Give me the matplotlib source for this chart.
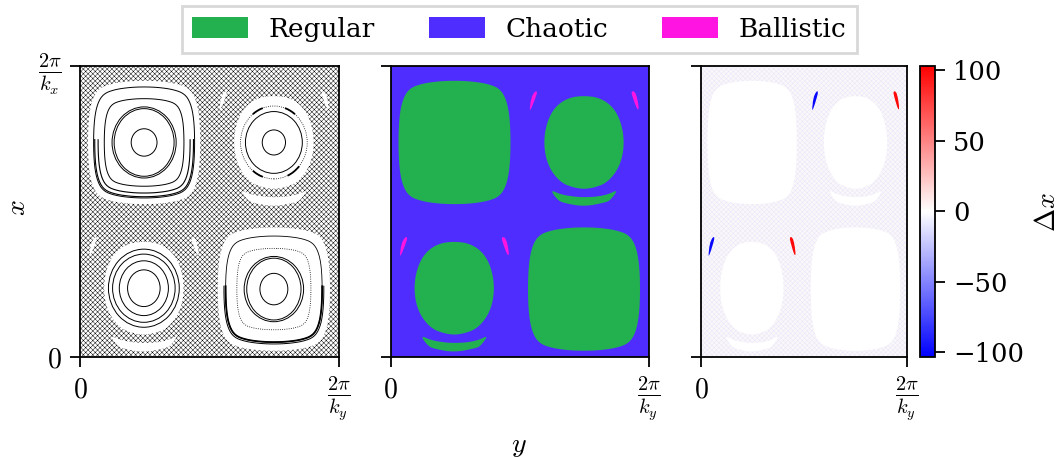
"""Phase-space panels: Poincare section, orbit classification, and displacement."""

import numpy as np
import matplotlib
matplotlib.use("Agg")
import matplotlib.pyplot as plt
from matplotlib.cm import ScalarMappable
from matplotlib.colors import Normalize
from matplotlib.patches import Arc, Ellipse, Patch, Polygon, Rectangle

plt.rcParams["mathtext.fontset"] = "cm"

FIG_W, FIG_H = 1062, 457

# ── Data (axis fractions of the 2pi/k period) ──────────────────────────────

# vortex centres: y is horizontal, x is vertical
LARGE_Y = [0.248, 0.750]
LARGE_X = [0.736, 0.233]
SMALL_Y = [0.750, 0.247]
SMALL_X = [0.736, 0.236]

# outline of the large (squarish) regular island, relative to its centre
LARGE_DY = [0.000, 0.061, 0.125, 0.174, 0.200, 0.214, 0.218, 0.214, 0.200, 0.174, 0.125, 0.061,
            0.000, -0.061, -0.125, -0.174, -0.200, -0.214, -0.218, -0.214, -0.200, -0.174, -0.125, -0.061]
LARGE_DX = [0.212, 0.210, 0.202, 0.186, 0.150, 0.090, 0.000, -0.090, -0.150, -0.186, -0.202, -0.210,
            -0.212, -0.210, -0.202, -0.186, -0.150, -0.090, 0.000, 0.090, 0.150, 0.186, 0.202, 0.210]

# outline of the small (rounded) regular island
SMALL_DY = [0.000, 0.052, 0.097, 0.130, 0.150, 0.155, 0.147, 0.124, 0.085, 0.039,
            0.000, -0.039, -0.085, -0.124, -0.147, -0.155, -0.150, -0.130, -0.097, -0.052]
SMALL_DX = [0.160, 0.155, 0.134, 0.098, 0.046, -0.006, -0.057, -0.103, -0.140, -0.155,
            -0.160, -0.155, -0.140, -0.103, -0.057, -0.006, 0.046, 0.098, 0.134, 0.155]

# crescent below each small island
CRESCENT_DY = [-0.131, -0.091, -0.039, 0.000, 0.052, 0.097, 0.132, 0.103, 0.084, 0.000, -0.078, -0.103]
CRESCENT_DX = [-0.162, -0.178, -0.186, -0.188, -0.186, -0.177, -0.162, -0.197, -0.206, -0.220, -0.208, -0.197]

# ballistic slivers either side of each small island
BALLISTIC_L_DY = [-0.211, -0.205, -0.191, -0.180, -0.193, -0.207]
BALLISTIC_L_DX = [0.112, 0.152, 0.175, 0.175, 0.141, 0.112]
BALLISTIC_R_DY = [0.182, 0.197, 0.207, 0.213, 0.206, 0.192]
BALLISTIC_R_DX = [0.175, 0.175, 0.150, 0.114, 0.114, 0.146]
DELTA_LEFT = -100
DELTA_RIGHT = 100

# invariant curves, half-width / half-height per island
RINGS_A_W = [0.050, 0.116, 0.124]
RINGS_A_H = [0.047, 0.116, 0.122]
RINGS_D_W = [0.054, 0.105, 0.115]
RINGS_D_H = [0.054, 0.106, 0.112]
RINGS_B_W = [0.045, 0.110]
RINGS_B_H = [0.043, 0.106]
RINGS_C_W = [0.063, 0.095, 0.121, 0.137]
RINGS_C_H = [0.063, 0.094, 0.117, 0.134]
# squarish curves, as a scale of the large outline
OUTER_A = [0.71, 0.90]
OUTER_D = [0.66, 0.86]
U_ARC_A = [0.88, 0.82]
U_ARC_D = [0.86, 0.89]
# broken thick arcs on the small upper island (degrees)
ARC_START = [50, 110, 230, 295]
ARC_END = [70, 130, 250, 320]

CBAR_TICKS = [-100, -50, 0, 50, 100]
LEGEND_LABELS = ["Regular", "Chaotic", "Ballistic"]

GREEN = "#23B14F"
VIOLET = "#4F2DFF"
MAGENTA = "#FF14E2"

# fine lattice that reads as speckle at this size
SPECKLE = "xxxxxxx"


# ── Helpers ────────────────────────────────────────────────────────────────

def px_axes(fig, left, top, right, bottom):
    """Axes placed by pixel edges of the figure."""
    return fig.add_axes([left / FIG_W, 1 - bottom / FIG_H, (right - left) / FIG_W, (bottom - top) / FIG_H])


def smooth(y, x, passes=2):
    """Round the corners of a closed outline by corner cutting."""
    pts = np.column_stack([y, x])
    for _ in range(passes):
        nxt = np.roll(pts, -1, axis=0)
        pts = np.column_stack([0.75 * pts + 0.25 * nxt, 0.25 * pts + 0.75 * nxt]).reshape(-1, 2)
    return pts


def add_shape(ax, cy, cx, dy, dx, color, passes=2):
    pts = smooth(dy, dx, passes) + [cy, cx]
    ax.add_patch(Polygon(pts, closed=True, fc=color, ec="none", zorder=2))


def add_regular(ax, color):
    for cy, cx in zip(LARGE_Y, LARGE_X):
        add_shape(ax, cy, cx, LARGE_DY, LARGE_DX, color)
    for cy, cx in zip(SMALL_Y, SMALL_X):
        add_shape(ax, cy, cx, SMALL_DY, SMALL_DX, color)
        add_shape(ax, cy, cx, CRESCENT_DY, CRESCENT_DX, color)


def add_slivers(ax, left_color, right_color):
    for cy, cx in zip(SMALL_Y, SMALL_X):
        add_shape(ax, cy, cx, BALLISTIC_L_DY, BALLISTIC_L_DX, left_color, passes=1)
        add_shape(ax, cy, cx, BALLISTIC_R_DY, BALLISTIC_R_DX, right_color, passes=1)


def add_rings(ax, cy, cx, widths, heights, lw=0.7):
    for w, h in zip(widths, heights):
        ax.add_patch(Ellipse((cy, cx), 2 * w, 2 * h, fc="none", ec="black", lw=lw, zorder=3))


def add_outer(ax, cy, cx, scales, lw=0.7, ls="-"):
    for s in scales:
        pts = smooth(np.array(LARGE_DY) * s, np.array(LARGE_DX) * s) + [cy, cx]
        ax.add_patch(Polygon(pts, closed=True, fc="none", ec="black", lw=lw, ls=ls, zorder=3))


def add_u_arc(ax, cy, cx, scales, lw=0.8):
    # lower half of the squarish outline, left to right
    pts = smooth(LARGE_DY, LARGE_DX)
    lower = pts[pts[:, 1] < 0.02]
    lower = lower[np.argsort((np.arctan2(lower[:, 1], lower[:, 0]) - 2.9) % (2 * np.pi))]
    for s in scales:
        ax.plot(cy + lower[:, 0] * s, cx + lower[:, 1] * s, color="black", lw=lw, zorder=3)


def style_axes(ax, with_y_labels):
    ax.set_xlim(0, 1)
    ax.set_ylim(0, 1)
    ax.set_xticks([0, 1])
    ax.set_xticklabels(["$0$", r"$\frac{2\pi}{k_y}$"])
    ax.set_yticks([0, 1])
    ax.set_yticklabels(["$0$", r"$\frac{2\pi}{k_x}$"] if with_y_labels else ["", ""])
    ax.tick_params(axis="x", length=7, width=1.3, pad=6)
    ax.tick_params(axis="y", length=7, width=1.3, pad=6)
    for label, size in zip(ax.get_xticklabels() + ax.get_yticklabels(), [20, 21, 20, 21]):
        label.set_fontsize(size)
    for spine in ax.spines.values():
        spine.set_linewidth(1.3)


# ── Figure ─────────────────────────────────────────────────────────────────

plt.rcParams["hatch.linewidth"] = 0.33
fig = plt.figure(figsize=(FIG_W / 100, FIG_H / 100), dpi=100)

ax1 = px_axes(fig, 80, 65.5, 338.5, 357)
ax2 = px_axes(fig, 390.5, 65.5, 648.5, 357)
ax3 = px_axes(fig, 701, 65.5, 907, 357)
cax = px_axes(fig, 920, 65.5, 935, 357)

# Panel 1: chaotic sea as a speckle texture, islands cut out, curves on top
ax1.add_patch(Rectangle((0, 0), 1, 1, fc="white", ec="black", hatch=SPECKLE, lw=0, zorder=1))
add_regular(ax1, "white")
add_slivers(ax1, "white", "white")

add_rings(ax1, LARGE_Y[0], LARGE_X[0], RINGS_A_W, RINGS_A_H)
add_outer(ax1, LARGE_Y[0], LARGE_X[0], OUTER_A)
add_u_arc(ax1, LARGE_Y[0], LARGE_X[0], U_ARC_A)
add_rings(ax1, LARGE_Y[1], LARGE_X[1], RINGS_D_W, RINGS_D_H)
add_outer(ax1, LARGE_Y[1], LARGE_X[1], OUTER_D[:1], lw=0.6, ls=":")
add_outer(ax1, LARGE_Y[1], LARGE_X[1], OUTER_D[1:], lw=0.6)
add_u_arc(ax1, LARGE_Y[1], LARGE_X[1], U_ARC_D[:1], lw=1.3)
add_u_arc(ax1, LARGE_Y[1], LARGE_X[1], U_ARC_D[1:], lw=0.7)
add_rings(ax1, SMALL_Y[0], SMALL_X[0], RINGS_B_W, RINGS_B_H)
ax1.add_patch(Ellipse((SMALL_Y[0], SMALL_X[0]), 2 * 0.129, 2 * 0.125, fc="none", ec="black", lw=0.6, ls=":", zorder=3))
for start, end in zip(ARC_START, ARC_END):
    ax1.add_patch(Arc((SMALL_Y[0], SMALL_X[0]), 2 * 0.129, 2 * 0.125, theta1=start, theta2=end, ec="black", lw=1.3, zorder=3))
add_rings(ax1, SMALL_Y[1], SMALL_X[1], RINGS_C_W, RINGS_C_H)

# Panel 2: classification
ax2.set_facecolor(VIOLET)
add_regular(ax2, GREEN)
add_slivers(ax2, MAGENTA, MAGENTA)

# Panel 3: displacement
norm = Normalize(-103.5, 103.5)
cmap = plt.get_cmap("bwr")
ax3.add_patch(Rectangle((0, 0), 1, 1, fc="#FBF7F9", ec="#E6E6FB", hatch=SPECKLE, lw=0, zorder=1))
add_regular(ax3, "white")
add_slivers(ax3, cmap(norm(DELTA_LEFT)), cmap(norm(DELTA_RIGHT)))

style_axes(ax1, True)
style_axes(ax2, False)
style_axes(ax3, False)

cb = fig.colorbar(ScalarMappable(norm=norm, cmap=cmap), cax=cax, ticks=CBAR_TICKS)
cb.ax.tick_params(length=7, width=1.3, pad=6)
cb.ax.set_yticklabels(["\u2212100", "\u221250", "0", "50", "100"], family="DejaVu Serif", fontsize=18.5)
cb.outline.set_linewidth(1.3)

fig.text(17 / FIG_W, 1 - 208 / FIG_H, "$x$", fontsize=20, rotation=90, ha="center", va="center")
fig.text(519 / FIG_W, 1 - 445 / FIG_H, "$y$", fontsize=20, ha="center", va="center")
fig.text(1047 / FIG_W, 1 - 212 / FIG_H, r"$\Delta x$", fontsize=20, rotation=90, ha="center", va="center")

handles = [Patch(fc=GREEN), Patch(fc=VIOLET), Patch(fc=MAGENTA)]
fig.legend(handles, LEGEND_LABELS, ncol=3, loc="center", bbox_to_anchor=(519.5 / FIG_W, 1 - 29.5 / FIG_H),
           prop={"family": "DejaVu Serif", "size": 19}, handlelength=2.1, handleheight=0.85,
           columnspacing=2.05, handletextpad=0.8, fancybox=False, edgecolor="#D8D8D8",
           framealpha=1).get_frame().set_linewidth(2.0)

fig.savefig("out.png", dpi=100)
plt.close(fig)
